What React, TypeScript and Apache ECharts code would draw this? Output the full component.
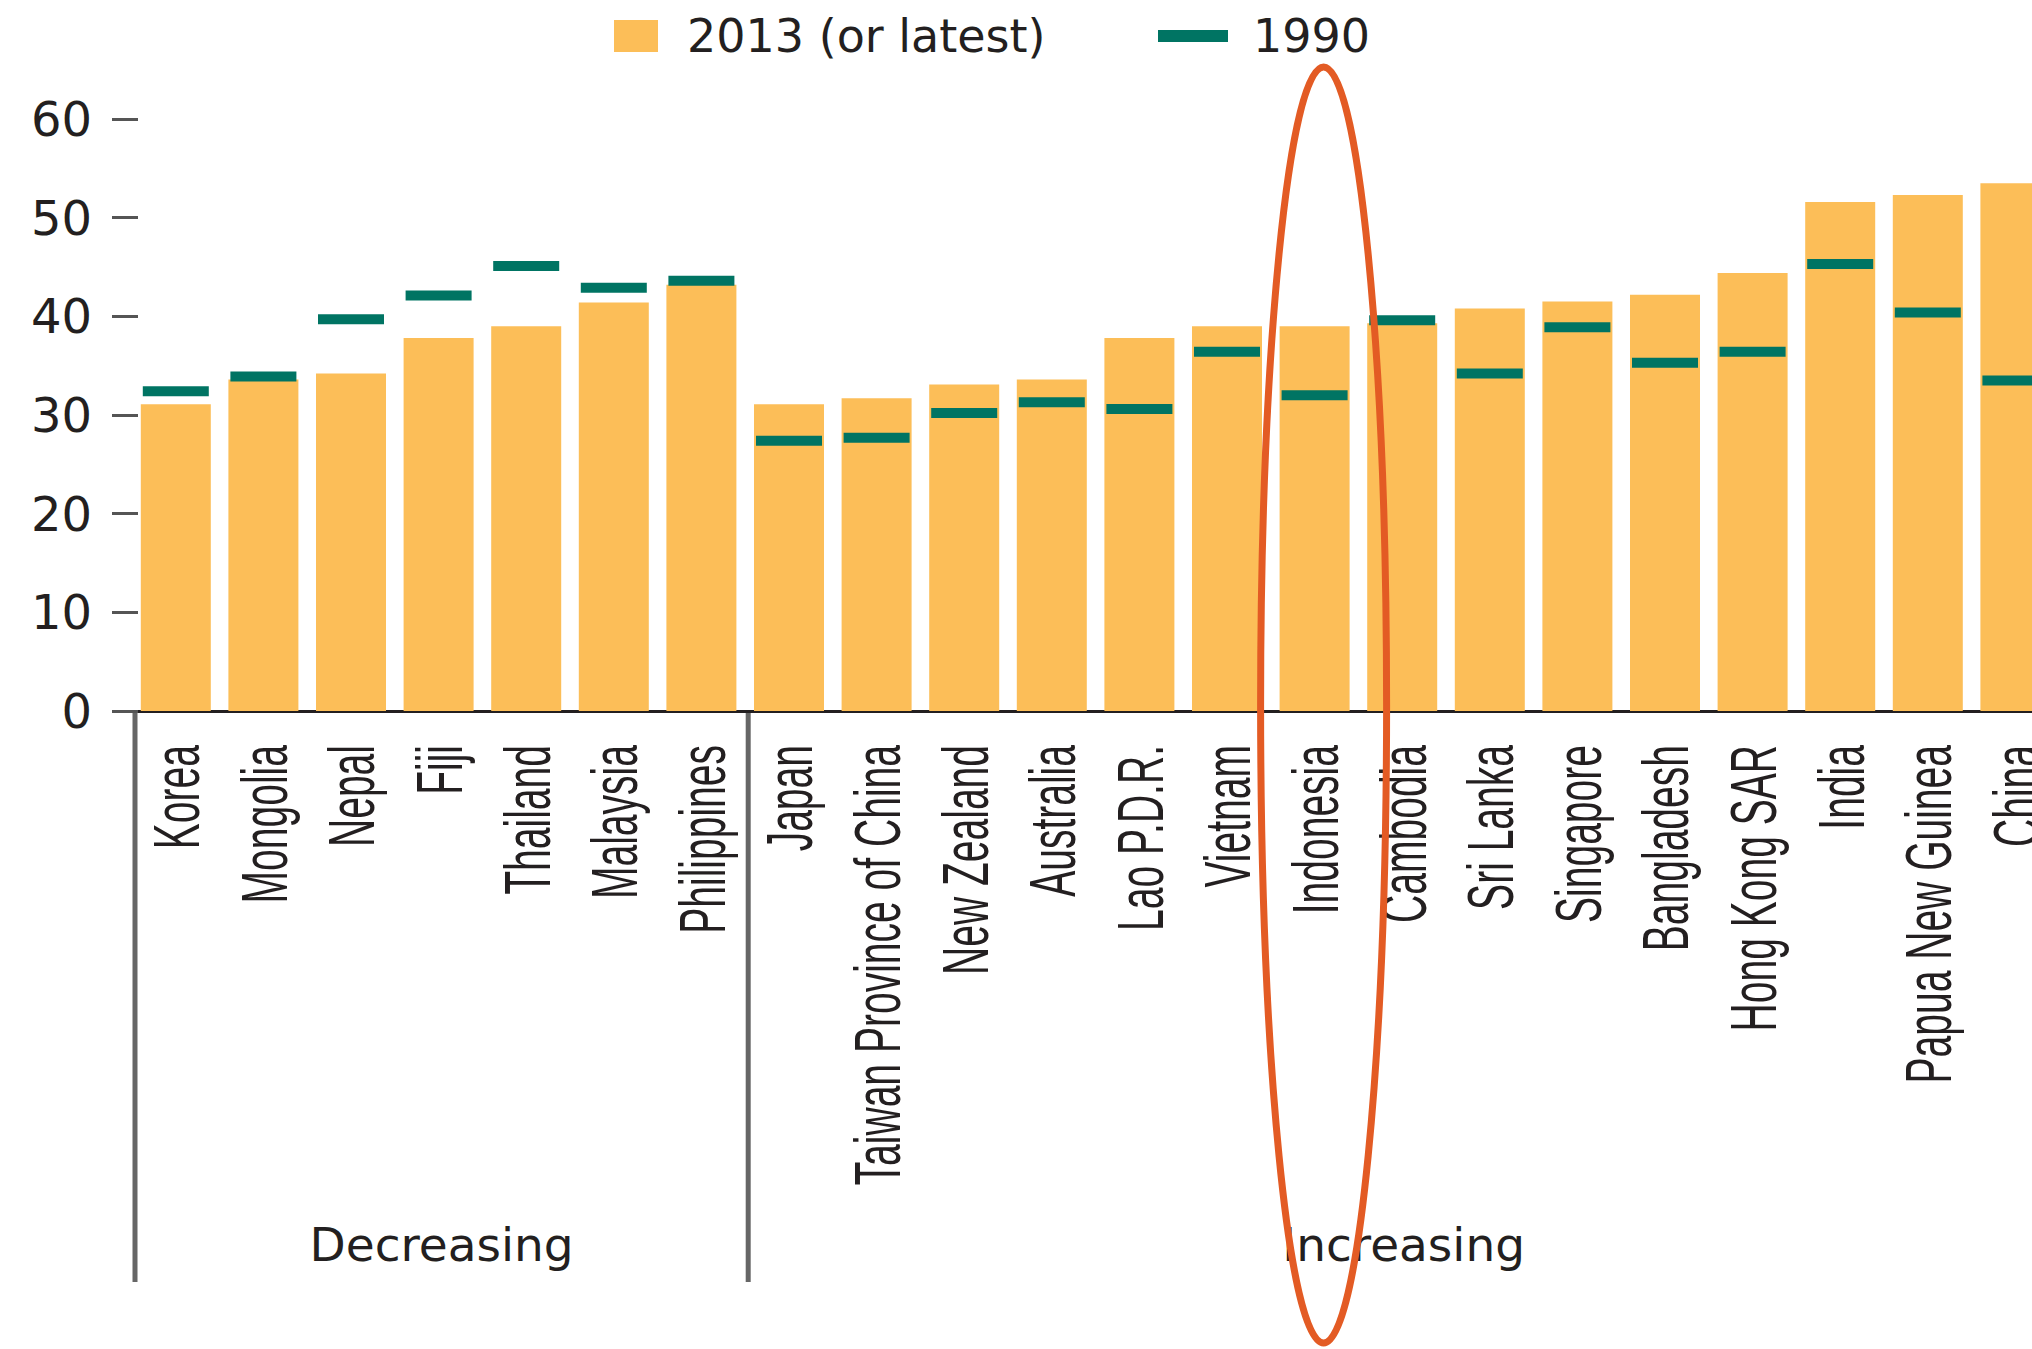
import React, { useEffect, useRef } from "react";
import * as echarts from "echarts";

const categories = [
  "Korea", "Mongolia", "Nepal", "Fiji", "Thailand", "Malaysia", "Philippines",
  "Japan", "Taiwan Province of China", "New Zealand", "Australia", "Lao P.D.R.",
  "Vietnam", "Indonesia", "Cambodia", "Sri Lanka", "Singapore", "Bangladesh",
  "Hong Kong SAR", "India", "Papua New Guinea", "China",
];

const values2013 = [
  31.1, 33.6, 34.2, 37.8, 39.0, 41.4, 43.2,
  31.1, 31.7, 33.1, 33.6, 37.8, 39.0, 39.0, 39.3, 40.8, 41.5, 42.2, 44.4, 51.6, 52.3, 53.5,
];

const values1990 = [
  32.4, 33.9, 39.7, 42.1, 45.1, 42.9, 43.6,
  27.4, 27.7, 30.2, 31.3, 30.6, 36.4, 32.0, 39.6, 34.2, 38.9, 35.3, 36.4, 45.3, 40.4, 33.5,
];

const yMin = 0;
const yMax = 60;
const yInterval = 10;

const groupNames = ["Decreasing", "Increasing"];
const groupStart = [0, 7];
const highlighted = "Indonesia";

const seriesNames = ["2013 (or latest)", "1990"];

const TEXT = "#231f20";
const BAR = "#fcbe58";
const MARK = "#007463";

export default function App() {
  const ref = useRef<HTMLDivElement>(null);

  useEffect(() => {
    const el = ref.current;
    if (!el) return;
    const chart = echarts.init(el, null, { renderer: "svg" });
    const option: any = {
      animation: false,
      backgroundColor: "#ffffff",
      legend: [
        {
          data: [seriesNames[0]],
          left: 609,
          top: 8,
          icon: "rect",
          itemWidth: 44,
          itemHeight: 32,
          textStyle: {
            fontFamily: "DejaVu Sans",
            fontSize: 46,
            color: TEXT,
            padding: [0, 0, 16, 24],
          },
        },
        {
          data: [seriesNames[1]],
          left: 1153,
          top: 8,
          icon: "rect",
          itemWidth: 70,
          itemHeight: 12,
          itemStyle: { color: MARK, opacity: 1 },
          textStyle: {
            fontFamily: "DejaVu Sans",
            fontSize: 46,
            color: TEXT,
            padding: [0, 0, 4, 20],
          },
        },
      ],
      grid: {
        left: 132,
        right: 2100 - (132 + 22 * 87.6),
        top: 119,
        bottom: 1349 - 711,
        containLabel: false,
        outerBoundsMode: "none",
      },
      xAxis: {
        type: "category",
        data: categories,
        axisTick: { show: false },
        axisLabel: { show: false },
        axisLine: { lineStyle: { color: TEXT, width: 3 } },
      },
      yAxis: {
        type: "value",
        min: yMin,
        max: yMax,
        interval: yInterval,
        offset: -6,
        splitLine: { show: false },
        axisLine: { show: false },
        axisTick: { show: true, length: 26, lineStyle: { color: "#555", width: 3 } },
        axisLabel: {
          margin: 46,
          fontFamily: "DejaVu Sans",
          fontSize: 48,
          color: TEXT,
        },
      },
      series: [
        {
          name: seriesNames[0],
          type: "bar",
          data: values2013,
          barWidth: 70,
          itemStyle: { color: BAR },
        },
        {
          name: seriesNames[1],
          type: "scatter",
          data: values1990,
          symbol: "rect",
          symbolSize: [66, 10],
          itemStyle: { color: MARK, opacity: 1 },
          z: 3,
        },
      ],
    };
    chart.setOption(option);

    const xc = (i: number) => chart.convertToPixel({ xAxisIndex: 0 }, categories[i]) as number;
    const y0 = chart.convertToPixel({ yAxisIndex: 0 }, 0) as number;
    const band = xc(1) - xc(0);
    const gridRight = xc(categories.length - 1) + band / 2;

    const elements: any[] = [];
    categories.forEach((c, i) => {
      elements.push({
        type: "text",
        x: xc(i) + 1,
        y: y0 + 34,
        rotation: Math.PI / 2,
        scaleX: 0.61,
        scaleY: 1,
        style: {
          text: c,
          fontFamily: "Liberation Sans",
          fontSize: 64,
          fill: TEXT,
          align: "right",
          verticalAlign: "middle",
          textAlign: "right",
          textVerticalAlign: "middle",
        },
      });
    });

    const bounds: number[] = groupStart.map((s) => xc(s) - band / 2 + 3);
    bounds.forEach((bx) => {
      elements.push({
        type: "line",
        shape: { x1: bx, y1: y0 + 2, x2: bx, y2: 1282 },
        style: { stroke: "#666", lineWidth: 5 },
      });
    });
    groupNames.forEach((g, k) => {
      const left = bounds[k];
      const right = k + 1 < bounds.length ? bounds[k + 1] : gridRight;
      elements.push({
        type: "text",
        x: (left + right) / 2,
        y: 1244,
        style: {
          text: g,
          fontFamily: "DejaVu Sans",
          fontSize: 47,
          fill: TEXT,
          align: "center",
          verticalAlign: "middle",
          textAlign: "center",
          textVerticalAlign: "middle",
        },
      });
    });

    const hi = categories.indexOf(highlighted);
    elements.push({
      type: "ellipse",
      z: 100,
      shape: { cx: xc(hi) + 9, cy: 705, rx: 63, ry: 638 },
      style: { fill: "none", stroke: "#e35b24", lineWidth: 7 },
    });

    chart.setOption({ graphic: { elements } });

    return () => chart.dispose();
  }, []);

  return (
    <div
      style={{
        position: "fixed",
        left: 0,
        top: 0,
        width: 2032,
        height: 1349,
        overflow: "hidden",
        background: "#fff",
      }}
    >
      <div ref={ref} style={{ width: 2100, height: 1349 }} />
    </div>
  );
}
